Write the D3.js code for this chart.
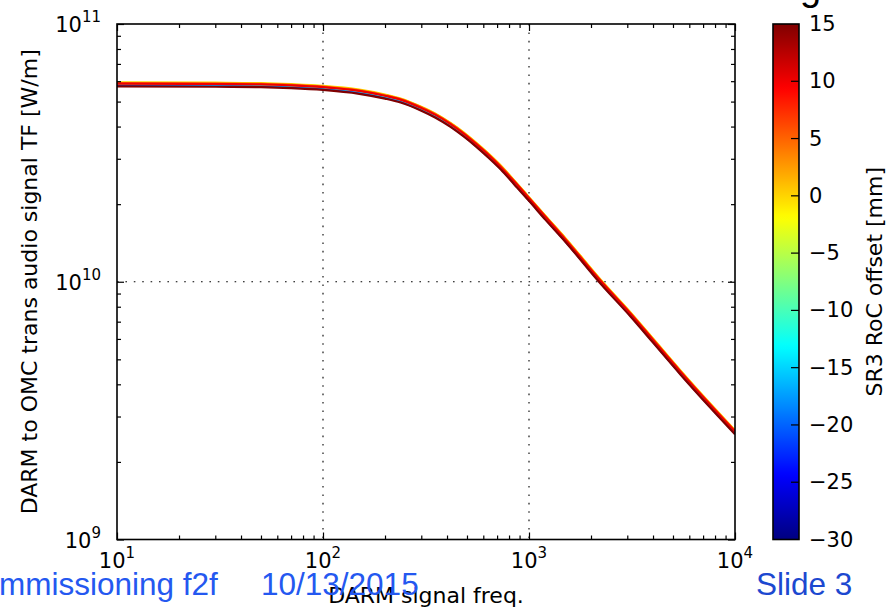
<!DOCTYPE html>
<html><head><meta charset="utf-8">
<script src="https://cdn.jsdelivr.net/npm/d3@7"></script>
<style>html,body{margin:0;padding:0;background:#fff;overflow:hidden}</style>
</head><body><svg id="c" width="887" height="608" xmlns="http://www.w3.org/2000/svg"></svg>
<script>
// ---------- data (TF values in units of 1e9 W/m) ----------
const freqHz = [10, 30, 50, 70, 100, 150, 200, 238, 300, 350, 416, 480, 550, 630, 728, 850, 1000, 1200, 1500, 2223, 3111, 4000, 5434, 7500, 10000];
const tfM30 = [57.7, 57.5, 57.34, 56.8, 55.9, 54.1, 51.78, 50.0, 46.4, 43.75, 40.2, 37.00, 33.8, 30.75, 27.5, 24.01, 20.7, 17.56, 14.4, 9.92, 7.39, 5.85, 4.40, 3.30, 2.58];
const tfM25 = [57.9, 57.7, 57.51, 57.0, 56.1, 54.2, 51.94, 50.1, 46.6, 43.88, 40.3, 37.11, 33.9, 30.85, 27.6, 24.08, 20.8, 17.61, 14.4, 9.95, 7.41, 5.87, 4.42, 3.31, 2.59];
const tfM20 = [58.2, 58.0, 57.80, 57.3, 56.4, 54.5, 52.20, 50.4, 46.8, 44.10, 40.5, 37.30, 34.1, 31.00, 27.7, 24.20, 20.9, 17.70, 14.5, 10.0, 7.45, 5.90, 4.44, 3.33, 2.60];
const tfM15 = [58.5, 58.3, 58.09, 57.6, 56.7, 54.8, 52.46, 50.7, 47.0, 44.32, 40.7, 37.49, 34.3, 31.16, 27.8, 24.32, 21.0, 17.79, 14.6, 10.05, 7.49, 5.93, 4.46, 3.35, 2.61];
const tfM10 = [58.8, 58.6, 58.44, 57.9, 57.0, 55.1, 52.77, 51.0, 47.3, 44.59, 40.9, 37.71, 34.5, 31.34, 28.0, 24.47, 21.1, 17.89, 14.7, 10.11, 7.53, 5.97, 4.49, 3.37, 2.63];
const tfM5  = [59.1, 58.9, 58.72, 58.2, 57.3, 55.4, 53.04, 51.2, 47.5, 44.81, 41.1, 37.90, 34.6, 31.50, 28.1, 24.59, 21.2, 17.98, 14.7, 10.16, 7.57, 5.99, 4.51, 3.38, 2.64];
const tfP0  = [59.4, 59.2, 58.96, 58.4, 57.5, 55.6, 53.24, 51.4, 47.7, 44.98, 41.3, 38.05, 34.8, 31.62, 28.3, 24.68, 21.3, 18.05, 14.8, 10.2, 7.60, 6.02, 4.53, 3.40, 2.65];
const tfP5  = [59.0, 58.8, 58.61, 58.1, 57.2, 55.3, 52.93, 51.1, 47.5, 44.72, 41.1, 37.82, 34.6, 31.43, 28.1, 24.54, 21.2, 17.95, 14.7, 10.14, 7.55, 5.98, 4.50, 3.38, 2.64];
const tfP10 = [58.7, 58.5, 58.32, 57.8, 56.9, 55.0, 52.67, 50.9, 47.2, 44.50, 40.9, 37.64, 34.4, 31.28, 27.9, 24.42, 21.1, 17.86, 14.6, 10.09, 7.52, 5.95, 4.48, 3.36, 2.62];
const tfP15 = [57.3, 57.1, 56.88, 56.4, 55.5, 53.6, 51.36, 49.6, 46.1, 43.39, 39.9, 36.70, 33.6, 30.50, 27.3, 23.81, 20.6, 17.42, 14.3, 9.84, 7.33, 5.81, 4.37, 3.28, 2.56];
const rocOffsets = [-30, -25, -20, -15, -10, -5, 0, 5, 10, 15];
const tfSeries = [tfM30, tfM25, tfM20, tfM15, tfM10, tfM5, tfP0, tfP5, tfP10, tfP15];
const xTickExps = [1, 2, 3, 4];
const yTickExps = [9, 10, 11];
const cbTicks = [-30, -25, -20, -15, -10, -5, 0, 5, 10, 15];
const xLabel = "DARM signal freq.";
const yLabel = "DARM to OMC trans audio signal TF [W/m]";
const cbLabel = "SR3 RoC offset [mm]";

// ---------- layout ----------
const L = 117, R = 735, T = 24, B = 539.5;
const CBL = 773, CBR = 799;
const svg = d3.select("#c");
svg.append("rect").attr("width", 887).attr("height", 608).attr("fill", "#fff");

const x = d3.scaleLog().domain([10, 1e4]).range([L, R]);
const y = d3.scaleLog().domain([1e9, 1e11]).range([B, T]);
const cb = d3.scaleLinear().domain([-30, 15]).range([B, T]);

function jet(v) {
  const t = (v + 30) / 45;
  const c = k => Math.max(0, Math.min(1, 1.5 - Math.abs(4 * t - k)));
  return d3.rgb(255 * c(3), 255 * c(2), 255 * c(1)).toString();
}

const FONT = "DejaVu Sans, sans-serif";

// grid (dotted)
const grid = svg.append("g").attr("stroke", "#000").attr("stroke-width", 1.1).attr("stroke-dasharray", "1.6,6.8");
[100, 1000].forEach(f => grid.append("line").attr("x1", x(f)).attr("x2", x(f)).attr("y1", T).attr("y2", B));
[1e10].forEach(v => grid.append("line").attr("x1", L).attr("x2", R).attr("y1", y(v)).attr("y2", y(v)));

// curves
svg.append("clipPath").attr("id", "pc").append("rect").attr("x", L).attr("y", T).attr("width", R - L).attr("height", B - T);
const line = d3.line().x(d => x(d[0])).y(d => y(d[1] * 1e9)).curve(d3.curveMonotoneX);
const cg = svg.append("g").attr("clip-path", "url(#pc)");
tfSeries.forEach((vals, i) => {
  cg.append("path")
    .attr("d", line(freqHz.map((f, j) => [f, vals[j]])))
    .attr("fill", "none").attr("stroke", jet(rocOffsets[i])).attr("stroke-width", 2.2)
    .attr("stroke-linejoin", "round");
});

// axes ticks (inside, all four sides)
const xMinor = [], yMinor = [];
[10, 100, 1000].forEach(d => { for (let k = 2; k <= 9; k++) xMinor.push(k * d); });
[1e9, 1e10].forEach(d => { for (let k = 2; k <= 9; k++) yMinor.push(k * d); });
const xMajor = xTickExps.map(e => Math.pow(10, e));
const yMajor = yTickExps.map(e => Math.pow(10, e));

function addAxis(axisFn, scale, vals, size, tr) {
  const g = svg.append("g").attr("transform", tr)
    .call(axisFn(scale).tickValues(vals).tickSizeInner(size).tickSizeOuter(0).tickFormat(""));
  g.select(".domain").remove();
  g.selectAll(".tick line").attr("stroke", "#000").attr("stroke-width", 1.2);
}
addAxis(d3.axisBottom, x, xMajor, -7, `translate(0,${B})`);
addAxis(d3.axisBottom, x, xMinor, -4, `translate(0,${B})`);
addAxis(d3.axisTop, x, xMajor, -7, `translate(0,${T})`);
addAxis(d3.axisTop, x, xMinor, -4, `translate(0,${T})`);
addAxis(d3.axisLeft, y, yMajor, -7, `translate(${L},0)`);
addAxis(d3.axisLeft, y, yMinor, -4, `translate(${L},0)`);
addAxis(d3.axisRight, y, yMajor, -7, `translate(${R},0)`);
addAxis(d3.axisRight, y, yMinor, -4, `translate(${R},0)`);

svg.append("rect").attr("x", L).attr("y", T).attr("width", R - L).attr("height", B - T)
  .attr("fill", "none").attr("stroke", "#000").attr("stroke-width", 1.6);

// tick labels
xTickExps.forEach(e => {
  const t = svg.append("text").attr("x", x(Math.pow(10, e))).attr("y", 568)
    .attr("text-anchor", "middle").attr("font-family", FONT).attr("font-size", 21).attr("fill", "#000");
  t.append("tspan").text("10");
  t.append("tspan").attr("font-size", 15).attr("dy", -10).text(e);
});
yTickExps.forEach(e => {
  const t = svg.append("text").attr("x", 101).attr("y", y(Math.pow(10, e)) + 8)
    .attr("text-anchor", "end").attr("font-family", FONT).attr("font-size", 21).attr("fill", "#000");
  t.append("tspan").text("10");
  t.append("tspan").attr("font-size", 15).attr("dy", -10).text(e);
});

// axis labels
svg.append("text").attr("x", (L + R) / 2).attr("y", 603).attr("text-anchor", "middle")
  .attr("font-family", FONT).attr("font-size", 22).attr("fill", "#000").text(xLabel);
svg.append("text").attr("transform", `translate(37,${(T + B) / 2}) rotate(-90)`).attr("text-anchor", "middle")
  .attr("font-family", FONT).attr("font-size", 22).attr("fill", "#000").text(yLabel);

// colorbar
const defs = svg.append("defs");
const grad = defs.append("linearGradient").attr("id", "jetg").attr("x1", 0).attr("y1", 1).attr("x2", 0).attr("y2", 0);
d3.range(0, 1.0001, 0.01).forEach(p => {
  grad.append("stop").attr("offset", p).attr("stop-color", jet(-30 + 45 * p));
});
svg.append("rect").attr("x", CBL).attr("y", T).attr("width", CBR - CBL).attr("height", B - T)
  .attr("fill", "url(#jetg)").attr("stroke", "#000").attr("stroke-width", 1.6);
cbTicks.forEach(v => {
  if (v !== -30 && v !== 15) {
    svg.append("line").attr("x1", CBR - 8).attr("x2", CBR).attr("y1", cb(v)).attr("y2", cb(v))
      .attr("stroke", "#000").attr("stroke-width", 1.2);
  }
  svg.append("text").attr("x", 809).attr("y", cb(v)).attr("dominant-baseline", "central")
    .attr("font-family", FONT).attr("font-size", 21).attr("fill", "#000")
    .text(v < 0 ? "\u2212" + Math.abs(v) : String(v));
});
svg.append("text").attr("transform", `translate(882,${(T + B) / 2}) rotate(-90)`).attr("text-anchor", "middle")
  .attr("font-family", FONT).attr("font-size", 22).attr("fill", "#000").text(cbLabel);

// slide overlay text
svg.append("text").attr("x", 800).attr("y", 0).attr("font-family", "Liberation Sans, Arial, sans-serif")
  .attr("font-size", 38).attr("fill", "#000").text("g");
const BL = "#2458f0";
svg.append("text").attr("x", -1).attr("y", 595).attr("font-family", "Liberation Sans, Arial, sans-serif")
  .attr("font-size", 31.5).attr("fill", BL).text("mmissioning f2f");
svg.append("text").attr("x", 261).attr("y", 595).attr("font-family", "Liberation Sans, Arial, sans-serif")
  .attr("font-size", 31.5).attr("fill", BL).text("10/13/2015");
svg.append("text").attr("x", 756).attr("y", 595).attr("font-family", "Liberation Sans, Arial, sans-serif")
  .attr("font-size", 31.5).attr("fill", "#1c48d0").text("Slide 3");
</script></body></html>
